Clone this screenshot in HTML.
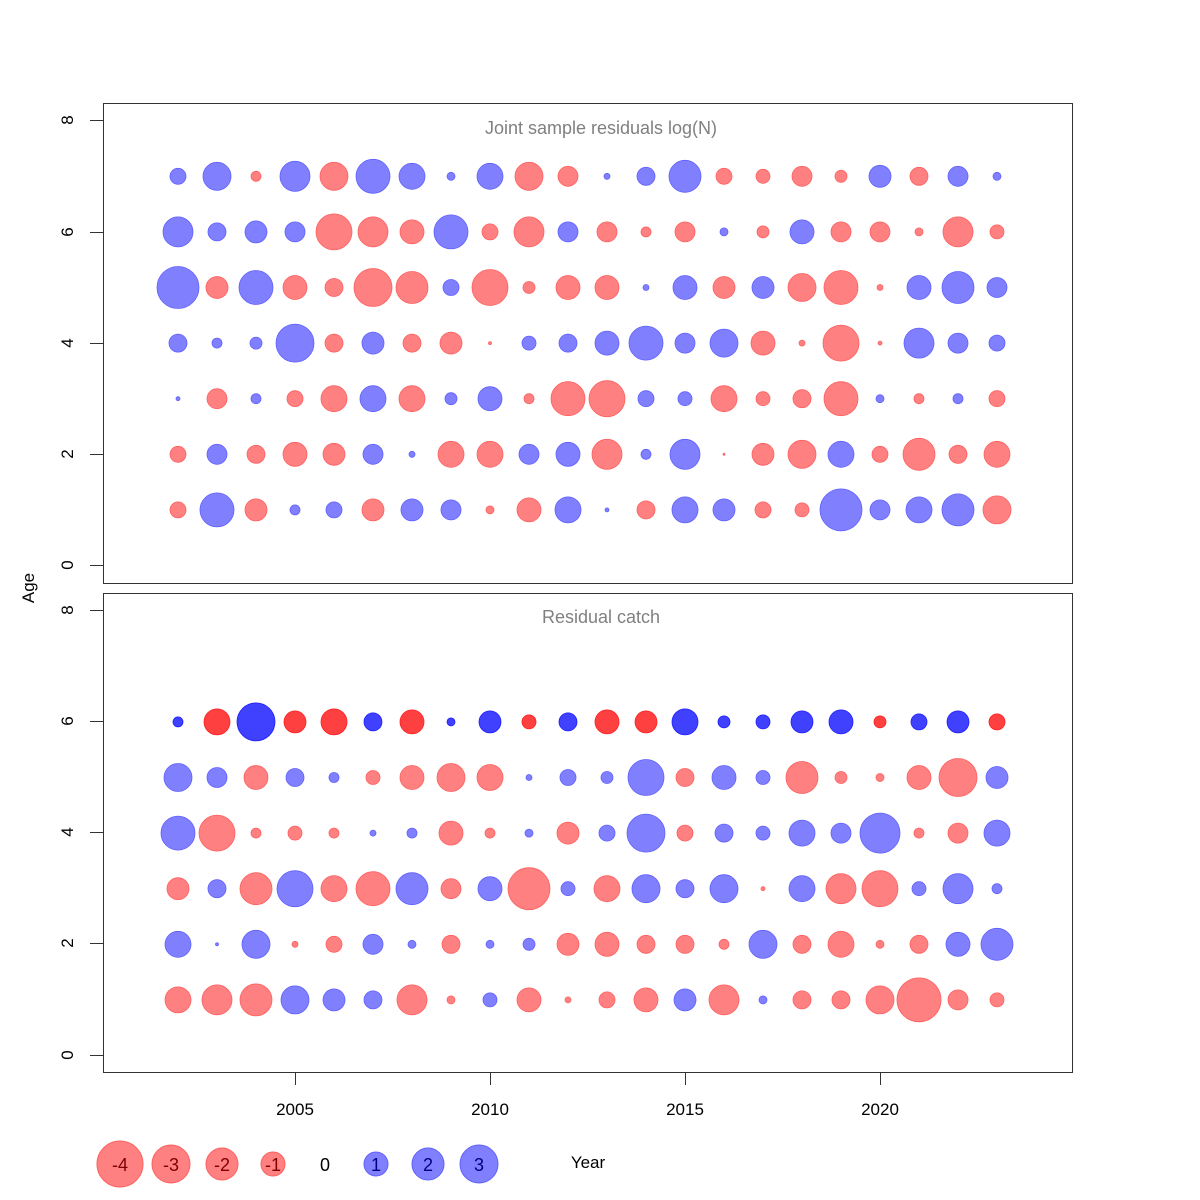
<!DOCTYPE html>
<html><head><meta charset="utf-8"><style>body{margin:0;background:#fff}svg{display:block}text{font-family:"Liberation Sans",sans-serif}</style></head>
<body>
<svg id="s" width="1200" height="1200" viewBox="0 0 1200 1200">
<rect x="0" y="0" width="1200" height="1200" fill="#fff"/>
<rect x="103.5" y="103.5" width="969" height="480" fill="none" stroke="#333"/>
<rect x="103.5" y="593.5" width="969" height="479" fill="none" stroke="#333"/>
<text x="601" y="134" font-size="18" fill="#808080" text-anchor="middle">Joint sample residuals log(N)</text>
<text x="601" y="623" font-size="18" fill="#808080" text-anchor="middle">Residual catch</text>
<g stroke="#333" fill="none">
<path d="M90 565.5H103M90 454.5H103M90 343.5H103M90 232.5H103M90 120.5H103"/>
<path d="M90 1055.5H103M90 943.5H103M90 832.5H103M90 721.5H103M90 610.5H103"/>
<path d="M295.5 1072V1085M490.5 1072V1085M685.5 1072V1085M880.5 1072V1085"/>
</g>
<g font-size="17" fill="#000" text-anchor="middle">
<text transform="translate(73,565) rotate(-90)">0</text>
<text transform="translate(73,454) rotate(-90)">2</text>
<text transform="translate(73,343) rotate(-90)">4</text>
<text transform="translate(73,232) rotate(-90)">6</text>
<text transform="translate(73,120) rotate(-90)">8</text>
<text transform="translate(73,1055) rotate(-90)">0</text>
<text transform="translate(73,943) rotate(-90)">2</text>
<text transform="translate(73,832) rotate(-90)">4</text>
<text transform="translate(73,721) rotate(-90)">6</text>
<text transform="translate(73,610) rotate(-90)">8</text>
<text transform="translate(34,588) rotate(-90)">Age</text>
<text x="295" y="1115">2005</text>
<text x="490" y="1115">2010</text>
<text x="685" y="1115">2015</text>
<text x="880" y="1115">2020</text>
<text x="588" y="1168">Year</text>
</g>
<g id="c"></g>
<g font-size="18" text-anchor="middle">
<circle cx="120" cy="1164" r="23" fill="#ff8080" stroke="#ff6060"/>
<circle cx="171" cy="1164" r="19" fill="#ff8080" stroke="#ff6060"/>
<circle cx="222" cy="1164" r="16" fill="#ff8080" stroke="#ff6060"/>
<circle cx="273" cy="1164" r="12" fill="#ff8080" stroke="#ff6060"/>
<circle cx="376" cy="1164" r="12" fill="#8080ff" stroke="#6060ff"/>
<circle cx="428" cy="1164" r="16" fill="#8080ff" stroke="#6060ff"/>
<circle cx="479" cy="1164" r="19" fill="#8080ff" stroke="#6060ff"/>
<text x="120" y="1171" fill="#800000">-4</text>
<text x="171" y="1171" fill="#800000">-3</text>
<text x="222" y="1171" fill="#800000">-2</text>
<text x="273" y="1171" fill="#800000">-1</text>
<text x="325" y="1171" fill="#000">0</text>
<text x="376" y="1171" fill="#000080">1</text>
<text x="428" y="1171" fill="#000080">2</text>
<text x="479" y="1171" fill="#000080">3</text>
</g>
</svg>
<script>
var top7=[["b",8],["b",14],["r",5],["b",15],["r",14],["b",17],["b",13],["b",4],["b",13],["r",14],["r",10],["b",3],["b",9],["b",16],["r",8],["r",7],["r",10],["r",6],["b",11],["r",9],["b",10],["b",4]];
var T={
7:"b8 b14 r5 b15 r14 b17 b13 b4 b13 r14 r10 b3 b9 b16 r8 r7 r10 r6 b11 r9 b10 b4",
6:"b15 b9 b11 b10 r18 r15 r12 b17 r8 r15 b10 r10 r5 r10 b4 r6 b12 r10 r10 r4 r15 r7",
5:"b21 r11 b17 r12 r9 r19 r16 b8 r18 r6 r12 r12 b3 b12 r11 b11 r14 r17 r3 b12 b16 b10",
4:"b9 b5 b6 b19 r9 b11 r9 r11 r1.5 b7 b9 b12 b17 b10 b14 r12 r3 r18 r2 b15 b10 b8",
3:"b2 r10 b5 r8 r13 b13 r13 b6 b12 r5 r17 r18 b8 b7 r13 r7 r9 r17 b4 r5 b5 r8",
2:"r8 b10 r9 r12 r11 b10 b3 r13 r13 b10 b12 r15 b5 b15 r1 r11 r14 b13 r8 r16 r9 r13",
1:"r8 b17 r11 b5 b8 r11 b11 b10 r4 r12 b13 b2 r9 b13 b11 r8 r7 b21 b10 b13 b16 r14"};
var B={
6:"b5 r13 b19 r11 r13 b9 r12 b4 b11 r7 b9 r12 r11 b13 b6 b7 b11 b12 r6 b8 b11 r8",
5:"b14 b10 r12 b9 b5 r7 r12 r14 r13 b3 b8 b6 b18 r9 b12 b7 r16 r6 r4 r12 r19 b11",
4:"b17 r18 r5 r7 r5 b3 b5 r12 r5 b4 r11 b8 b19 r8 b9 b7 b13 b10 b20 r5 r10 b13",
3:"r11 b9 r16 b18 r13 r17 b16 r10 b12 r21 b7 r13 b14 b9 b14 r2 b13 r15 r18 b7 b15 b5",
2:"b13 b1.5 b14 r3 r8 b10 b4 r9 b4 b6 r11 r12 r9 r9 r5 b14 r9 r13 r4 r9 b12 b16",
1:"r13 r15 r16 b14 b11 b9 r15 r4 b7 r12 r3 r8 r12 b11 r15 b4 r9 r9 r14 r22 r10 r7"};
var g=document.getElementById("c"),h="";
function add(rows,y0,k,dark){for(var a in rows){var it=rows[a].split(" ");for(var i=0;i<it.length;i++){var s=it[i][0],r=parseFloat(it[i].slice(1));var x=178+39*i,y=y0-k*a;var red=s=="r";var d=dark&&a==6;var f=red?(d?"#ff4040":"#ff8080"):(d?"#4040ff":"#8080ff");var st=red?(d?"#ff2020":"#ff6060"):(d?"#2020ff":"#6060ff");h+='<circle cx="'+x+'" cy="'+y.toFixed(1)+'" r="'+r+'" fill="'+f+'" stroke="'+st+'" stroke-width="0.8"/>';}}}
add(T,565.5,55.6,false);add(B,1055.5,55.6,true);
g.innerHTML=h;
</script>
</body></html>
